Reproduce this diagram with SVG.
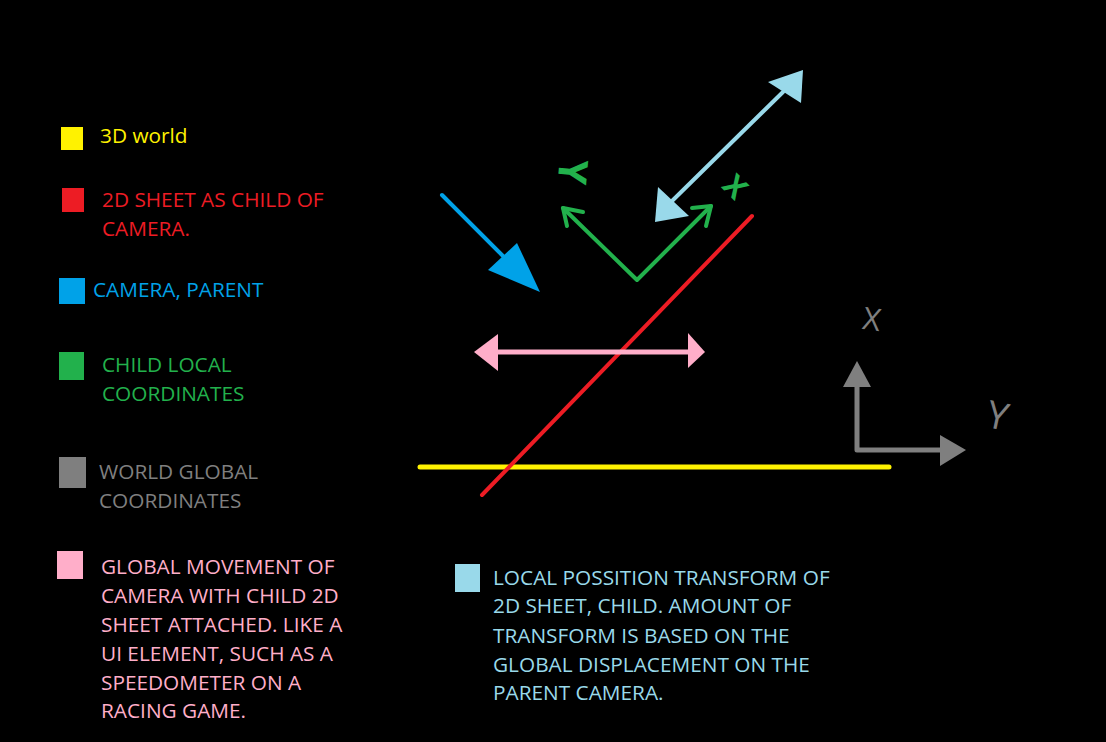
<svg xmlns="http://www.w3.org/2000/svg" width="1106" height="742" viewBox="0 0 1106 742">
<style>
.t{font-family:"Open Sans","Noto Sans","Liberation Sans",sans-serif;font-size:20.8px}
.h{font-family:"Open Sans","Liberation Sans",sans-serif;text-anchor:middle;dominant-baseline:central}
.ln{fill:none;stroke-linecap:round;stroke-linejoin:round}
.yel{fill:#FFF200}.red{fill:#ED1C24}.blu{fill:#00A2E8}.grn{fill:#22B14C}.gry{fill:#7F7F7F}.pnk{fill:#FFAEC9}.lbl{fill:#99D9EA}
</style>
<rect width="1106" height="742" fill="#000"/>

<g id="legend-3d-world">
<rect x="61" y="127" width="22" height="23" class="yel"/>
<text x="100" y="143" class="t yel">3D world</text>
</g>
<g id="legend-2d-sheet">
<rect x="62" y="188" width="22" height="24" class="red"/>
<text class="t red"><tspan x="102" y="207">2D SHEET AS CHILD OF</tspan><tspan x="102" y="236">CAMERA.</tspan></text>
</g>
<g id="legend-camera">
<rect x="59" y="278" width="26" height="26" class="blu"/>
<text x="93" y="297" class="t blu">CAMERA, PARENT</text>
</g>
<g id="legend-child-local">
<rect x="59" y="352" width="25" height="28" class="grn"/>
<text class="t grn"><tspan x="102" y="372">CHILD LOCAL</tspan><tspan x="102" y="401">COORDINATES</tspan></text>
</g>
<g id="legend-world-global">
<rect x="59" y="457" width="27" height="31" class="gry"/>
<text class="t gry"><tspan x="99" y="479">WORLD GLOBAL</tspan><tspan x="99" y="508">COORDINATES</tspan></text>
</g>
<g id="legend-global-movement">
<rect x="57" y="551" width="26" height="28" class="pnk"/>
<text class="t pnk"><tspan x="101" y="574">GLOBAL MOVEMENT OF</tspan><tspan x="101" y="603">CAMERA WITH CHILD 2D</tspan><tspan x="101" y="632">SHEET ATTACHED. LIKE A</tspan><tspan x="101" y="661">UI ELEMENT, SUCH AS A</tspan><tspan x="101" y="690">SPEEDOMETER ON A</tspan><tspan x="101" y="718">RACING GAME.</tspan></text>
</g>
<g id="legend-local-position">
<rect x="455" y="564" width="25" height="28" class="lbl"/>
<text class="t lbl"><tspan x="493" y="585">LOCAL POSSITION TRANSFORM OF</tspan><tspan x="493" y="613">2D SHEET, CHILD. AMOUNT OF</tspan><tspan x="493" y="643">TRANSFORM IS BASED ON THE</tspan><tspan x="493" y="672">GLOBAL DISPLACEMENT ON THE</tspan><tspan x="493" y="700">PARENT CAMERA.</tspan></text>
</g>

<g id="connectors">
<line x1="420" y1="467" x2="889" y2="467" class="ln" stroke="#FFF200" stroke-width="5"/>
<line x1="482" y1="495" x2="752" y2="216" class="ln" stroke="#ED1C24" stroke-width="4"/>
<line x1="490" y1="352" x2="692" y2="352" class="ln" stroke="#FFAEC9" stroke-width="5"/>
<polygon points="474,352 498,334 498,371" class="pnk"/>
<polygon points="705,352 688,333 688,368" class="pnk"/>
<line x1="442" y1="195" x2="505" y2="258" class="ln" stroke="#00A2E8" stroke-width="4"/>
<polygon points="517,243 488,270 540,292" class="blu"/>
<line x1="783" y1="92" x2="672" y2="201" class="ln" stroke="#99D9EA" stroke-width="4"/>
<polygon points="768,82 803,70 801,103" class="lbl"/>
<polygon points="658,187 655,222 689,216" class="lbl"/>
<polyline points="563,208 637,280 711,206" class="ln" stroke="#22B14C" stroke-width="4"/>
<polyline points="583,212 563,208 567,226" class="ln" stroke="#22B14C" stroke-width="4"/>
<polyline points="692,208 711,206 706,226" class="ln" stroke="#22B14C" stroke-width="4"/>
<polyline points="857,385 857,450 942,450" class="ln" stroke="#7F7F7F" stroke-width="5"/>
<polygon points="857,361 843,387 871,387" class="gry"/>
<polygon points="966,450 940,435 940,466" class="gry"/>
</g>

<g id="axis-labels">
<text x="872" y="318" class="h gry" font-size="31" transform="rotate(8 872 318)">X</text>
<text x="998" y="414" class="h gry" font-size="38" transform="rotate(12 998 414)">Y</text>
<text x="574" y="172" class="h grn" font-size="40" font-weight="bold" transform="rotate(95 574 172)">Y</text>
<text x="736" y="186" class="h grn" font-size="30" font-weight="bold" transform="rotate(45 736 186)">X</text>
</g>
</svg>
